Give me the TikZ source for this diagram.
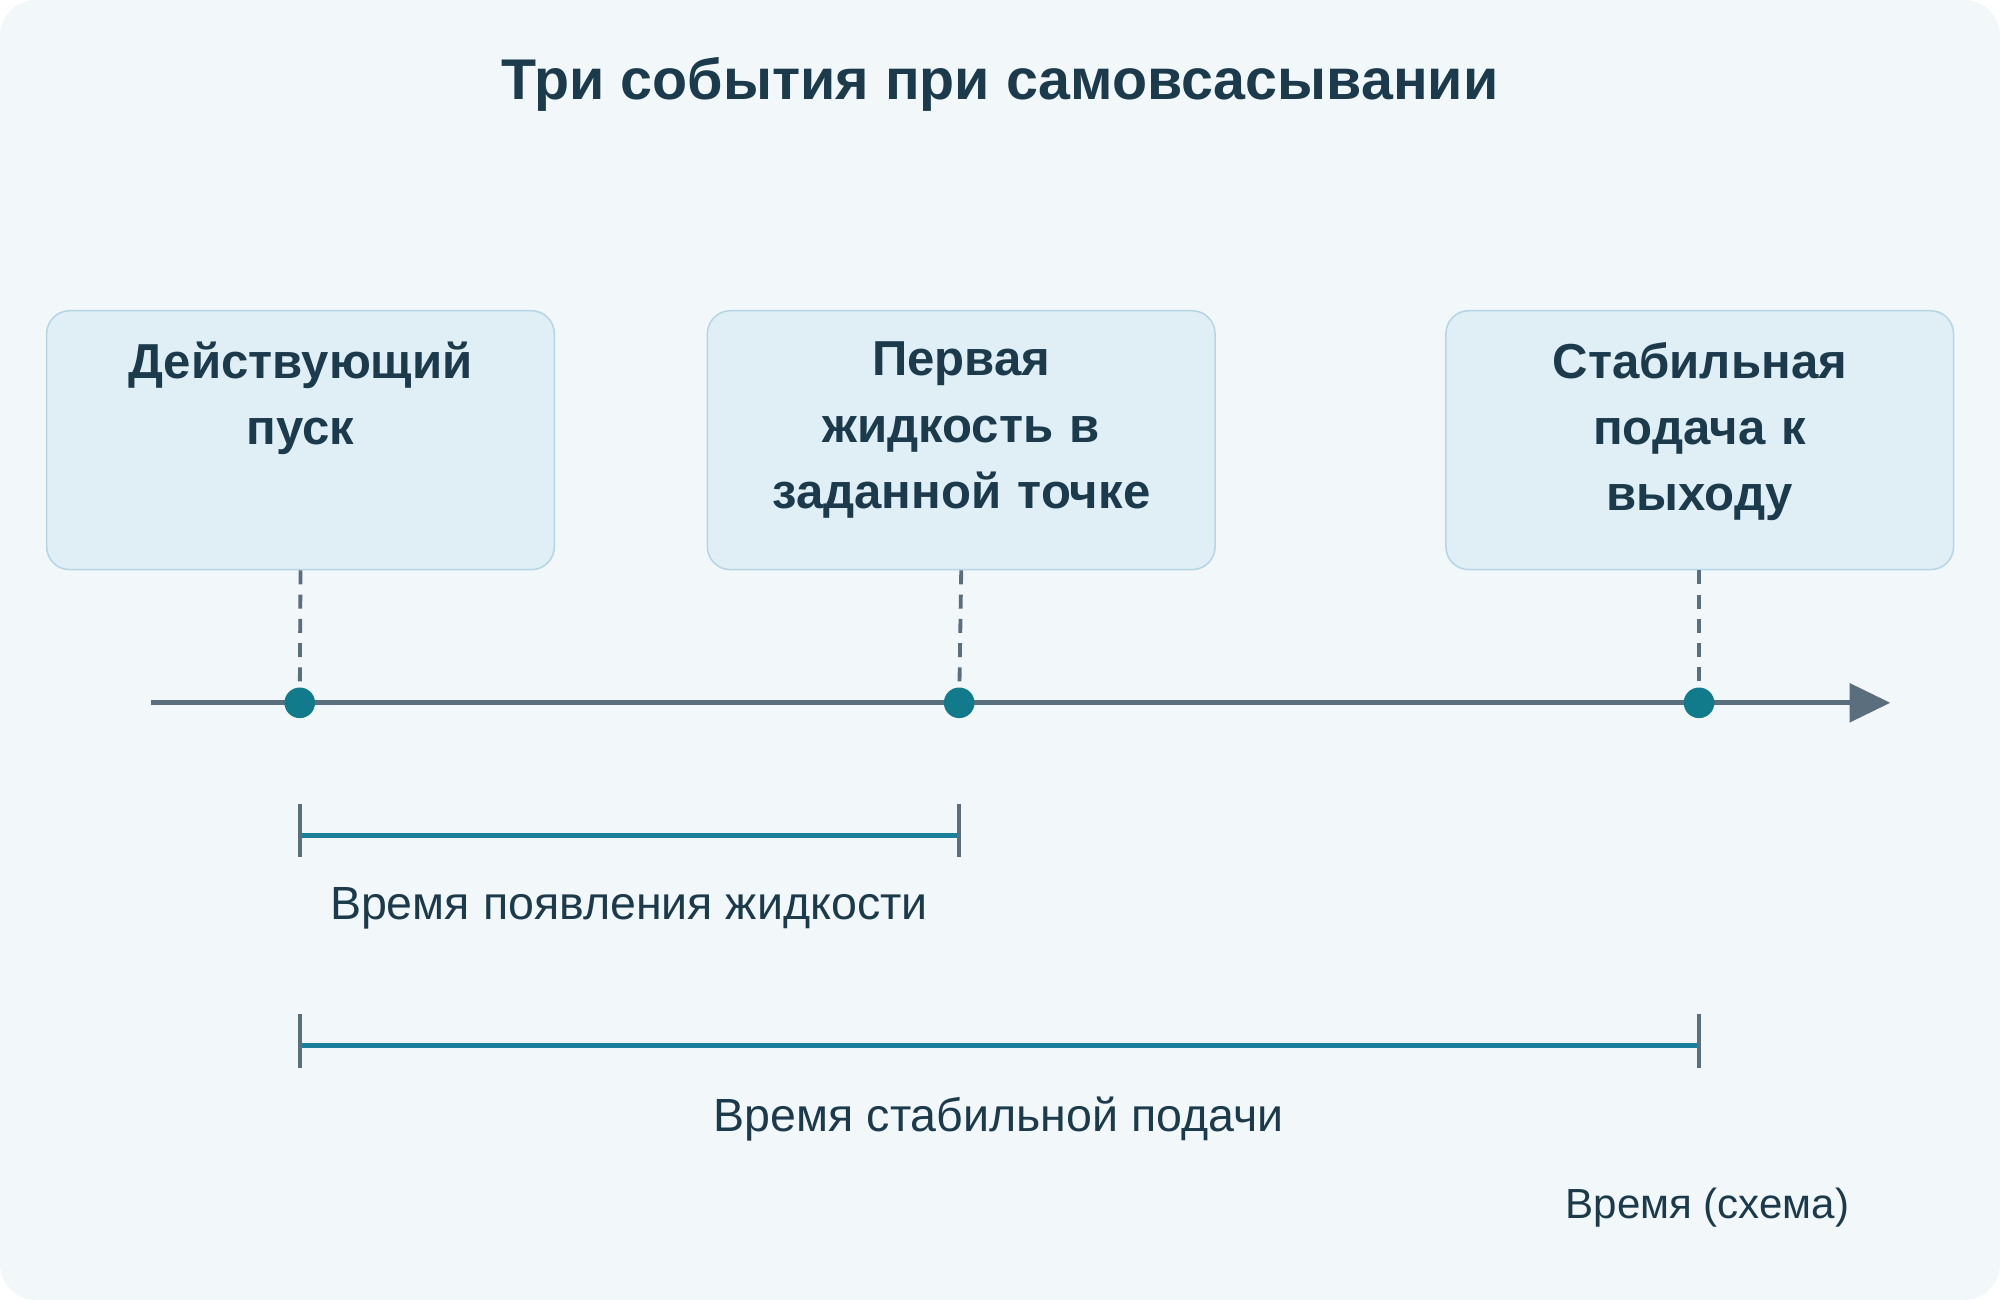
\documentclass[tikz,border=0pt]{standalone}
\usepackage{fontspec}
\setmainfont{Liberation Sans}
\usetikzlibrary{arrows.meta}
\definecolor{bg}{HTML}{F2F7FA}
\definecolor{boxf}{HTML}{E0EEF5}
\definecolor{boxd}{HTML}{B5D6E6}
\definecolor{txt}{HTML}{1B3A4B}
\definecolor{axis}{HTML}{5A6E7E}
\definecolor{dot}{HTML}{117A8B}
\definecolor{span}{HTML}{1A7F99}
\begin{document}
\begin{tikzpicture}[x=1pt,y=-1pt,
  box/.style={draw=boxd,line width=1.2pt,fill=boxf,rounded corners=18pt,minimum width=398pt,minimum height=203pt,anchor=north west,inner sep=0pt},
  btxt/.style={anchor=north,align=center,text width=380pt,font=\fontsize{38.5}{52}\selectfont\bfseries,text=txt,inner sep=0pt},
  lbl/.style={font=\fontsize{36.5}{42}\selectfont,text=txt,inner sep=0pt},
  dashln/.style={axis,line width=3pt,dash pattern=on 11pt off 8pt},
  ev/.style={circle,fill=dot,minimum size=24pt,inner sep=0pt},
  tick/.style={axis,line width=3pt},
  spn/.style={span,line width=4pt}]
\useasboundingbox (0,0) rectangle (1568,1019);
\fill[bg,rounded corners=28pt] (0,0) rectangle (1568,1019);
\node[font=\fontsize{45}{52}\selectfont\bfseries,text=txt] (title) at (784,66) {Три события при самовсасывании};
\node[box] (b1) at (36,243) {};
\node[box] (b2) at (554,243) {};
\node[box] (b3) at (1133,243) {};
\node[btxt] (t1) at ([yshift=-25pt]b1.north) {Действующий\\пуск};
\node[btxt] (t2) at ([yshift=-25pt]b2.north) {Первая\\жидкость в\\заданной точке};
\node[btxt] (t3) at ([yshift=-25pt]b3.north) {Стабильная\\подача к\\выходу};
\coordinate (a0) at (118,551);
\coordinate (a1) at (1482,551);
\draw[axis,line width=4pt,-{Triangle[length=32pt,width=30pt]}] (a0) -- (a1);
\node[ev] (e1) at (235,551) {};
\node[ev] (e2) at (752,551) {};
\node[ev] (e3) at (1332,551) {};
\draw[dashln] (b1.south) -- (e1);
\draw[dashln] (b2.south) -- (e2);
\draw[dashln] (b3.south-|e3) -- (e3);
\coordinate (s1a) at (235,655); \coordinate (s1b) at (752,655);
\draw[spn] (s1a) -- (s1b);
\draw[tick] ([yshift=25pt]s1a) -- ([yshift=-17pt]s1a);
\draw[tick] ([yshift=25pt]s1b) -- ([yshift=-17pt]s1b);
\node[lbl] (l1) at (493,712) {Время появления жидкости};
\coordinate (s2a) at (235,820); \coordinate (s2b) at (1332,820);
\draw[spn] (s2a) -- (s2b);
\draw[tick] ([yshift=25pt]s2a) -- ([yshift=-17pt]s2a);
\draw[tick] ([yshift=25pt]s2b) -- ([yshift=-17pt]s2b);
\node[lbl] (l2) at (783,877) {Время стабильной подачи};
\node[font=\fontsize{33}{38}\selectfont,text=txt,anchor=east,inner sep=0pt] (l3) at (1450,947) {Время (схема)};
\end{tikzpicture}
\end{document}
